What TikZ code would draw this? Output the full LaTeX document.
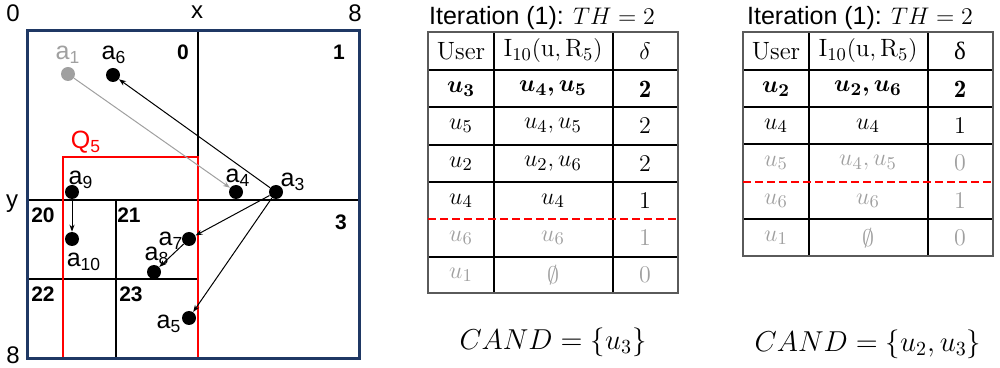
\documentclass[tikz,border=0pt]{standalone}
\usepackage{amsmath,bm}
\usepackage{fontspec}
\setsansfont{Liberation Sans}
\newfontfamily\grk{Liberation Serif}
\usetikzlibrary{arrows.meta}
\definecolor{navy}{RGB}{31,56,100}
\definecolor{fade}{RGB}{160,160,160}
\definecolor{frame}{RGB}{90,90,90}
\tikzset{
  dot/.style={circle,fill=black,inner sep=0pt,minimum size=7pt},
  gdot/.style={dot,fill=fade},
  lab/.style={font=\sffamily\fontsize{12.5}{13}\selectfont,inner sep=0pt},
  num/.style={font=\sffamily\bfseries\fontsize{10.5}{11}\selectfont,inner sep=0pt},
  axl/.style={font=\sffamily\fontsize{12}{13}\selectfont,inner sep=0pt},
  arr/.style={-{Stealth[length=3.5pt,width=2.6pt]},line width=0.5pt},
  cell/.style={font=\fontsize{12.5}{14}\selectfont,inner sep=0pt},
  fcell/.style={cell,text=fade},
  ttl/.style={font=\sffamily\fontsize{12.5}{14}\selectfont,inner sep=0pt},
  cand/.style={font=\fontsize{14.5}{16}\selectfont,inner sep=0pt},
  tline/.style={line width=0.7pt,black},
  tframe/.style={line width=0.8pt,frame},
  cut/.style={line width=1.4pt,red,dash pattern=on 4pt off 2pt},
}
\begin{document}
\begin{tikzpicture}[x=0.5pt,y=-0.5pt]
\useasboundingbox (0,0) rectangle (1000,368);
% ---------- left panel ----------
\draw[line width=0.9pt] (198,31) -- (198,200);
\draw[line width=0.9pt] (27,200) -- (359,200);
\draw[line width=0.9pt] (116,200) -- (116,358);
\draw[line width=0.9pt] (27,279) -- (198,279);
\draw[red,line width=1.2pt] (63,157) rectangle (198,358);
\draw[navy,line width=1.5pt] (27,31) rectangle (359,358);
\node[lab,text=red] (q5) at (86,142) {Q\textsubscript{5}};
% axis labels
\node[axl] (ax0) at (13,13) {0};
\node[axl] (axx) at (197,12) {x};
\node[axl] (ax8) at (355,13) {8};
\node[axl] (axy) at (12,204) {y};
\node[axl] (ay8) at (13,355) {8};
% cell numbers
\node[num] (n0) at (183,52) {0};
\node[num] (n1) at (339,52) {1};
\node[num] (n20) at (43,215) {20};
\node[num] (n21) at (129,215) {21};
\node[num] (n3) at (341,222) {3};
\node[num] (n22) at (43,294) {22};
\node[num] (n23) at (131,294) {23};
% points
\node[gdot] (a1) at (68,74) {};
\node[dot] (a6) at (113,75) {};
\node[dot] (a9) at (72,192) {};
\node[dot] (a4) at (236,192) {};
\node[dot] (a3) at (276,192) {};
\node[dot] (a10) at (72,239) {};
\node[dot] (a7) at (189,239) {};
\node[dot] (a8) at (154,272) {};
\node[dot] (a5) at (189,318) {};
% point labels
\node[lab,text=fade] (la1) at (68,55) {a\textsubscript{1}};
\node[lab] (la6) at (114,55) {a\textsubscript{6}};
\node[lab] (la9) at (81,180) {a\textsubscript{9}};
\node[lab] (la4) at (238,178) {a\textsubscript{4}};
\node[lab] (la3) at (293,182) {a\textsubscript{3}};
\node[lab] (la10) at (84,262) {a\textsubscript{10}};
\node[lab] (la7) at (171,241) {a\textsubscript{7}};
\node[lab] (la8) at (157,256) {a\textsubscript{8}};
\node[lab] (la5) at (169,324) {a\textsubscript{5}};
% arrows
\draw[arr,fade] (a1) -- (a4);
\draw[arr] (a3) -- (a6);
\draw[arr] (a3) -- (a7);
\draw[arr] (a3) -- (a5);
\draw[arr] (a7) -- (a8);
\draw[arr] (a9) -- (a10);
% ---------- table 1 ----------
\node[ttl] (t1) at (542,18) {Iteration (1): $TH=2$};
\foreach \y in {70,107,145,182,257} \draw[tline] (428,\y) -- (678,\y);
\draw[tline] (494,32) -- (494,293);
\draw[tline] (613,32) -- (613,293);
\draw[tframe] (428,32) rectangle (678,293);
\draw[cut] (428,219) -- (678,219);
\node[cell] (a00) at (461,51) {User};
\node[cell] (a01) at (553,51) {$\mathrm{I}_{10}(\mathrm{u},\mathrm{R}_5)$};
\node[cell] (a02) at (645,51) {$\delta$};
\node[cell] (a10c) at (461,89) {$\bm{u_3}$};
\node[cell] (a11) at (553,89) {$\bm{u_4,u_5}$};
\node[cell] (a12) at (645,89) {$\mathbf{2}$};
\node[cell] (a20) at (461,126) {$u_5$};
\node[cell] (a21) at (553,126) {$u_4,u_5$};
\node[cell] (a22) at (645,126) {$2$};
\node[cell] (a30) at (461,164) {$u_2$};
\node[cell] (a31) at (553,164) {$u_2,u_6$};
\node[cell] (a32) at (645,164) {$2$};
\node[cell] (a40) at (461,201) {$u_4$};
\node[cell] (a41) at (553,201) {$u_4$};
\node[cell] (a42) at (645,201) {$1$};
\node[fcell] (a50) at (461,238) {$u_6$};
\node[fcell] (a51) at (553,238) {$u_6$};
\node[fcell] (a52) at (645,238) {$1$};
\node[fcell] (a60) at (461,275) {$u_1$};
\node[fcell] (a61) at (553,275) {$\emptyset$};
\node[fcell] (a62) at (645,275) {$0$};
\node[cand] (c1) at (553,342) {$CAND=\{u_3\}$};
% ---------- table 2 ----------
\node[ttl] (t2) at (860,18) {Iteration (1): $TH=2$};
\foreach \y in {70,107,144,219} \draw[tline] (743,\y) -- (993,\y);
\draw[tline] (809,32) -- (809,256);
\draw[tline] (928,32) -- (928,256);
\draw[tframe] (743,32) rectangle (993,256);
\draw[cut] (743,182) -- (993,182);
\node[cell] (b00) at (776,51) {User};
\node[cell] (b01) at (868,51) {$\mathrm{I}_{10}(\mathrm{u},\mathrm{R}_5)$};
\node[cell] (b02) at (960,51) {\grk δ};
\node[cell] (b10) at (776,89) {$\bm{u_2}$};
\node[cell] (b11) at (868,89) {$\bm{u_2,u_6}$};
\node[cell] (b12) at (960,89) {$\mathbf{2}$};
\node[cell] (b20) at (776,126) {$u_4$};
\node[cell] (b21) at (868,126) {$u_4$};
\node[cell] (b22) at (960,126) {$1$};
\node[fcell] (b30) at (776,163) {$u_5$};
\node[fcell] (b31) at (868,163) {$u_4,u_5$};
\node[fcell] (b32) at (960,163) {$0$};
\node[fcell] (b40) at (776,201) {$u_6$};
\node[fcell] (b41) at (868,201) {$u_6$};
\node[fcell] (b42) at (960,201) {$1$};
\node[fcell] (b50) at (776,238) {$u_1$};
\node[fcell] (b51) at (868,238) {$\emptyset$};
\node[fcell] (b52) at (960,238) {$0$};
\node[cand] (c2) at (868,344) {$CAND=\{u_2,u_3\}$};
\end{tikzpicture}
\end{document}
